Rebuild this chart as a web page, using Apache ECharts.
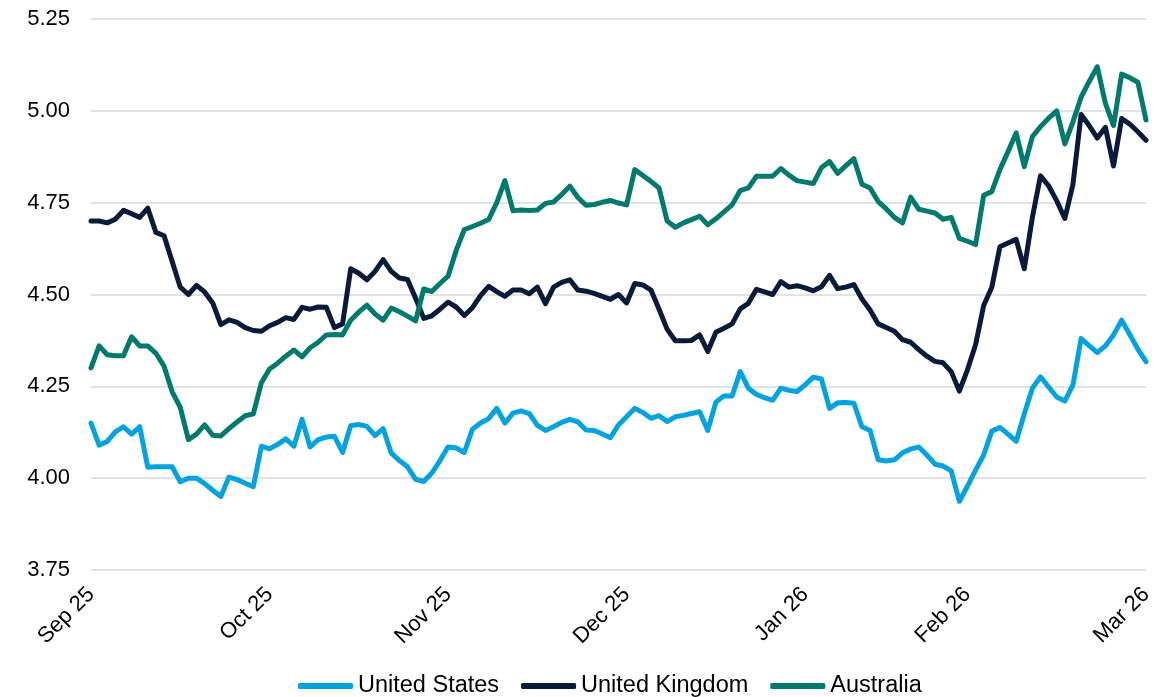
<!DOCTYPE html>
<html>
<head>
<meta charset="utf-8">
<script src="https://cdn.jsdelivr.net/npm/echarts@6/dist/echarts.min.js"></script>
<style>
html,body{margin:0;padding:0;background:#fff;}
#chart{width:1169px;height:697px;}
</style>
</head>
<body>
<div id="chart"></div>
<script>
// Business days from 1 Sep 2025 to 2 Mar 2026
const startDate = '2025-09-01';
const pointCount = 131;
const tickLabels = ['Sep 25','Oct 25','Nov 25','Dec 25','Jan 26','Feb 26','Mar 26'];
const tickIndex = [0,22,44,66,88,108,130];
const seriesNames = ['United States','United Kingdom','Australia'];

const unitedStates = [4.15,4.09,4.10,4.126,4.14,4.12,4.14,4.03,4.031,4.031,
4.031,3.99,4.0,4.0,3.985,3.967,3.95,4.003,3.996,3.986,
3.977,4.087,4.08,4.092,4.107,4.087,4.16,4.085,4.105,4.112,
4.114,4.07,4.143,4.146,4.141,4.116,4.135,4.068,4.048,4.031,
3.997,3.991,4.014,4.048,4.085,4.082,4.07,4.133,4.15,4.162,
4.19,4.15,4.177,4.183,4.176,4.144,4.13,4.14,4.152,4.16,
4.153,4.131,4.13,4.12,4.11,4.145,4.167,4.19,4.179,4.163,
4.17,4.154,4.167,4.171,4.176,4.181,4.13,4.207,4.224,4.224,
4.29,4.245,4.228,4.219,4.212,4.245,4.239,4.236,4.254,4.275,
4.27,4.19,4.205,4.206,4.204,4.14,4.13,4.05,4.047,4.05,
4.069,4.079,4.085,4.063,4.038,4.033,4.02,3.937,3.978,4.022,
4.063,4.128,4.138,4.12,4.10,4.175,4.245,4.276,4.248,4.221,
4.21,4.254,4.38,4.361,4.342,4.36,4.39,4.43,4.391,4.351,4.317];

const unitedKingdom = [4.70,4.70,4.695,4.705,4.729,4.72,4.71,4.735,4.669,4.66,
4.59,4.52,4.50,4.525,4.507,4.477,4.418,4.431,4.424,4.41,
4.402,4.40,4.415,4.424,4.437,4.432,4.465,4.46,4.466,4.465,
4.41,4.42,4.57,4.558,4.54,4.563,4.595,4.563,4.545,4.541,
4.49,4.435,4.442,4.46,4.479,4.466,4.443,4.464,4.497,4.522,
4.508,4.495,4.512,4.512,4.502,4.52,4.475,4.52,4.533,4.54,
4.512,4.509,4.503,4.495,4.487,4.50,4.477,4.53,4.526,4.512,
4.46,4.405,4.374,4.374,4.375,4.39,4.345,4.397,4.408,4.42,
4.461,4.476,4.514,4.507,4.50,4.535,4.52,4.524,4.518,4.51,
4.521,4.552,4.516,4.52,4.527,4.488,4.458,4.42,4.41,4.40,
4.377,4.37,4.35,4.332,4.318,4.314,4.29,4.237,4.295,4.363,
4.47,4.52,4.63,4.64,4.65,4.57,4.71,4.823,4.796,4.755,
4.707,4.80,4.99,4.96,4.926,4.955,4.85,4.979,4.964,4.943,4.92];

const australia = [4.30,4.36,4.336,4.333,4.333,4.385,4.36,4.36,4.34,4.305,
4.235,4.193,4.105,4.12,4.145,4.117,4.115,4.135,4.153,4.17,
4.175,4.26,4.297,4.313,4.332,4.349,4.33,4.355,4.37,4.39,
4.391,4.39,4.43,4.452,4.471,4.447,4.43,4.463,4.453,4.441,
4.428,4.515,4.508,4.53,4.55,4.62,4.677,4.685,4.694,4.704,
4.75,4.81,4.728,4.73,4.729,4.73,4.748,4.752,4.772,4.795,
4.764,4.743,4.745,4.751,4.756,4.749,4.744,4.84,4.824,4.808,
4.79,4.70,4.683,4.695,4.704,4.713,4.69,4.706,4.725,4.744,
4.783,4.79,4.822,4.822,4.822,4.843,4.825,4.81,4.806,4.802,
4.845,4.862,4.83,4.85,4.87,4.80,4.79,4.753,4.733,4.71,
4.695,4.765,4.732,4.727,4.722,4.705,4.71,4.653,4.645,4.636,
4.77,4.78,4.84,4.889,4.94,4.848,4.93,4.957,4.98,5.0,
4.91,4.97,5.037,5.08,5.12,5.02,4.96,5.10,5.09,5.078,4.975];

// build business-day category list
const categories = [];
(function(){
  const d = new Date(startDate + 'T00:00:00Z');
  while (categories.length < pointCount) {
    const wd = d.getUTCDay();
    if (wd !== 0 && wd !== 6) categories.push(d.toISOString().slice(0,10));
    d.setUTCDate(d.getUTCDate() + 1);
  }
})();

const colors = ['#00A3E0', '#0A1A3A', '#007A6C'];
const FONT = "'Liberation Sans', Arial, sans-serif";

const chart = echarts.init(document.getElementById('chart'), null, {renderer: 'canvas'});
const dataSets = [unitedStates, unitedKingdom, australia];

chart.setOption({
  animation: false,
  backgroundColor: '#ffffff',
  color: colors,
  grid: {left: 91, right: 23, top: 19, bottom: 127, containLabel: false},
  legend: {
    left: 293,
    top: 669,
    data: seriesNames,
    icon: 'roundRect',
    itemWidth: 55,
    itemHeight: 6,
    itemGap: 22,
    textStyle: {fontFamily: FONT, fontSize: 23.5, color: '#000'}
  },
  xAxis: {
    type: 'category',
    data: categories,
    boundaryGap: false,
    axisLine: {show: false},
    axisTick: {show: false},
    splitLine: {show: false},
    axisLabel: {
      rotate: 45,
      margin: 21,
      fontFamily: FONT,
      fontSize: 22,
      color: '#000',
      interval: function(index){ return tickIndex.indexOf(index) !== -1; },
      formatter: function(value, index){
        const k = tickIndex.indexOf(index);
        return k === -1 ? '' : tickLabels[k];
      }
    }
  },
  yAxis: {
    type: 'value',
    min: 3.75,
    max: 5.25,
    interval: 0.25,
    axisLine: {show: false},
    axisTick: {show: false},
    splitLine: {lineStyle: {color: '#D9D9D9', width: 1.5}},
    axisLabel: {
      margin: 21,
      fontFamily: FONT,
      fontSize: 22,
      color: '#000',
      formatter: function(v){ return v.toFixed(2); }
    }
  },
  series: seriesNames.map(function(name, i){
    return {
      name: name,
      type: 'line',
      data: dataSets[i],
      showSymbol: false,
      symbol: 'none',
      lineStyle: {width: 5, color: colors[i], cap: 'round', join: 'round'},
      itemStyle: {color: colors[i]},
      z: 2 + i
    };
  })
});
</script>
</body>
</html>
